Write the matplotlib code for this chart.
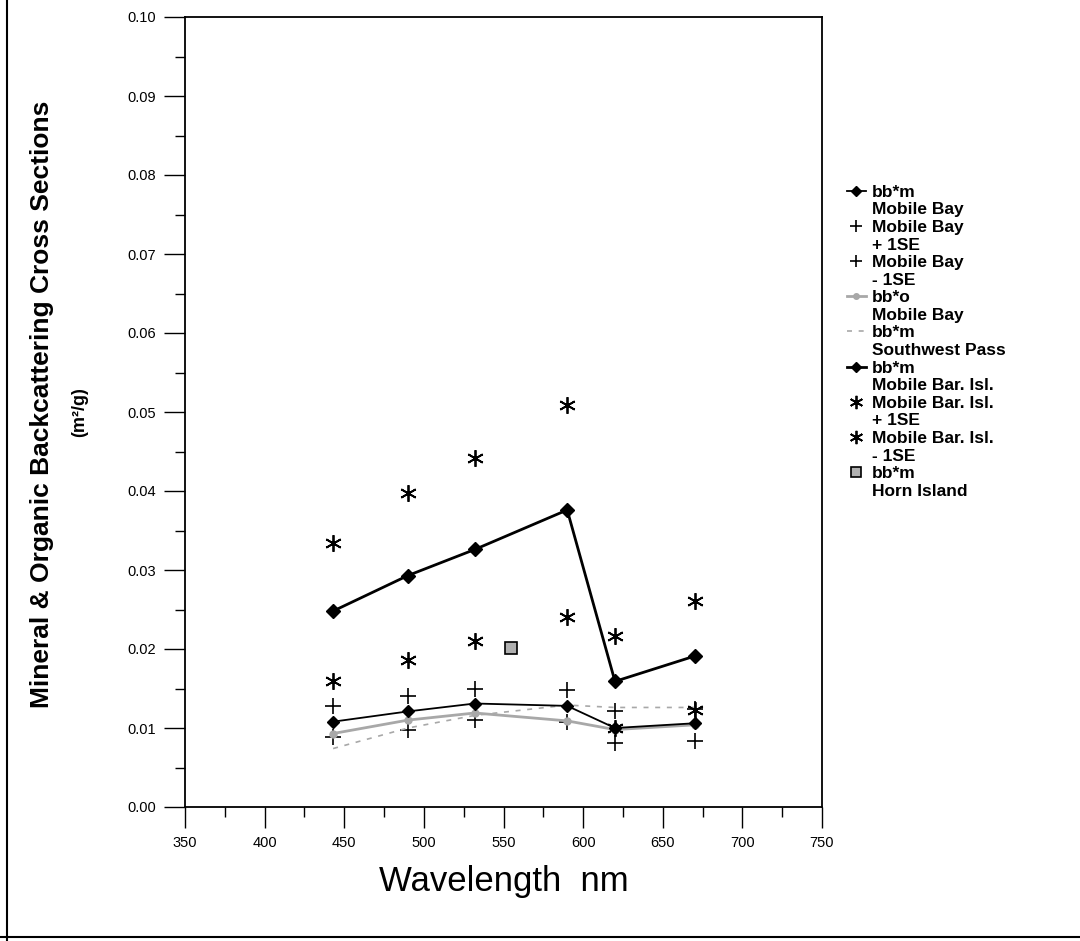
import numpy as np
import matplotlib.pyplot as plt
from matplotlib.lines import Line2D

plt.rcParams['font.family'] = ['Liberation Sans', 'DejaVu Sans']

## Datos
wl = [443, 490, 532, 590, 620, 670]
mb_bbm = [0.0108, 0.0121, 0.0131, 0.0128, 0.0100, 0.0106]
mb_plus = [0.0128, 0.0140, 0.0149, 0.0148, 0.0121, 0.0124]
mb_minus = [0.0088, 0.0097, 0.0110, 0.0107, 0.0081, 0.0084]
mb_bbo = [0.0093, 0.0110, 0.0119, 0.0109, 0.0098, 0.0104]
sw_bbm = [0.0074, 0.0100, 0.0116, 0.0129, 0.0126, 0.0126]
mbi_bbm = [0.0248, 0.0293, 0.0326, 0.0376, 0.0159, 0.0191]
mbi_plus = [0.0334, 0.0398, 0.0442, 0.0509, 0.0217, 0.0261]
mbi_minus = [0.0159, 0.0186, 0.0210, 0.0241, 0.0100, 0.0123]
horn_wl = [555]
horn_bbm = [0.0201]

labels = [
    ('bb*m', 'Mobile Bay'),
    ('Mobile Bay', '+ 1SE'),
    ('Mobile Bay', '- 1SE'),
    ('bb*o', 'Mobile Bay'),
    ('bb*m', 'Southwest Pass'),
    ('bb*m', 'Mobile Bar. Isl.'),
    ('Mobile Bar. Isl.', '+ 1SE'),
    ('Mobile Bar. Isl.', '- 1SE'),
    ('bb*m', 'Horn Island'),
]

fig = plt.figure(figsize=(10.8, 9.41), dpi=100)
ax = fig.add_axes([185/1080, 1 - 807/941, 637/1080, 790/941])

grey = '#a8a8a8'
star = (6, 2, 0)
h = []
h.append(ax.plot(wl, mb_bbm, '-D', color='black', lw=1.3, ms=6.5, zorder=5)[0])
h.append(ax.plot(wl, mb_plus, '+', color='black', ms=11, mew=1.2, ls='none')[0])
h.append(ax.plot(wl, mb_minus, '+', color='black', ms=11, mew=1.2, ls='none')[0])
h.append(ax.plot(wl, mb_bbo, '-o', color=grey, lw=2, ms=5, zorder=4)[0])
h.append(ax.plot(wl, sw_bbm, '--', color=grey, lw=1.2, dashes=(3, 4))[0])
h.append(ax.plot(wl, mbi_bbm, '-D', color='black', lw=2, ms=7, zorder=5)[0])
h.append(ax.plot(wl, mbi_plus, ls='none', color='black', ms=12, marker=star, mew=1.3)[0])
h.append(ax.plot(wl, mbi_minus, ls='none', color='black', ms=12, marker=star, mew=1.3)[0])
h.append(ax.plot(horn_wl, horn_bbm, 's', color='#b0b0b0', mec='black', ms=9, mew=1.2, ls='none')[0])

ax.set_xlim(350, 750)
ax.set_ylim(0, 0.10)
ax.set_xticks(np.arange(350, 751, 50))
ax.set_xticks(np.arange(350, 751, 25), minor=True)
ax.set_yticks(np.arange(0, 0.101, 0.01))
ax.set_yticks(np.arange(0, 0.101, 0.005), minor=True)
ax.set_yticklabels(['%.2f' % v for v in np.arange(0, 0.101, 0.01)])
ax.tick_params(axis='both', which='major', direction='out', length=15, width=1, labelsize=10.5, pad=6)
ax.tick_params(axis='both', which='minor', direction='out', length=7, width=1)
for s in ax.spines.values():
    s.set_linewidth(1.3)

ax.set_xlabel('Wavelength  nm', fontsize=25, labelpad=11)
fig.text(42/1080, 1 - 404/941, 'Mineral & Organic Backcattering Cross Sections',
         rotation=90, fontsize=19, fontweight='bold', ha='center', va='center')
fig.text(80/1080, 1 - 412/941, '(m²/g)', rotation=90, fontsize=13,
         fontweight='bold', ha='center', va='center')

# leyenda: marcador alineado con la primera linea de cada entrada
blank = Line2D([], [], ls='none')
handles, texts = [], []
for hh, (l1, l2) in zip(h, labels):
    handles += [hh, blank]
    texts += [l1, l2]
leg = fig.legend(handles, texts, loc='upper left', bbox_to_anchor=(838/1080, 1 - 176/941),
                 frameon=False, prop={'weight': 'bold', 'size': 12.5}, labelspacing=0.14,
                 handlelength=1.1, handletextpad=0.35, borderpad=0, markerscale=0.8)

# marco de la figura
fig.add_artist(Line2D([7/1080, 7/1080], [0, 1], color='black', lw=1.5))
fig.add_artist(Line2D([0, 1], [4/941, 4/941], color='black', lw=1.5))

plt.savefig('out.png', dpi=100)
